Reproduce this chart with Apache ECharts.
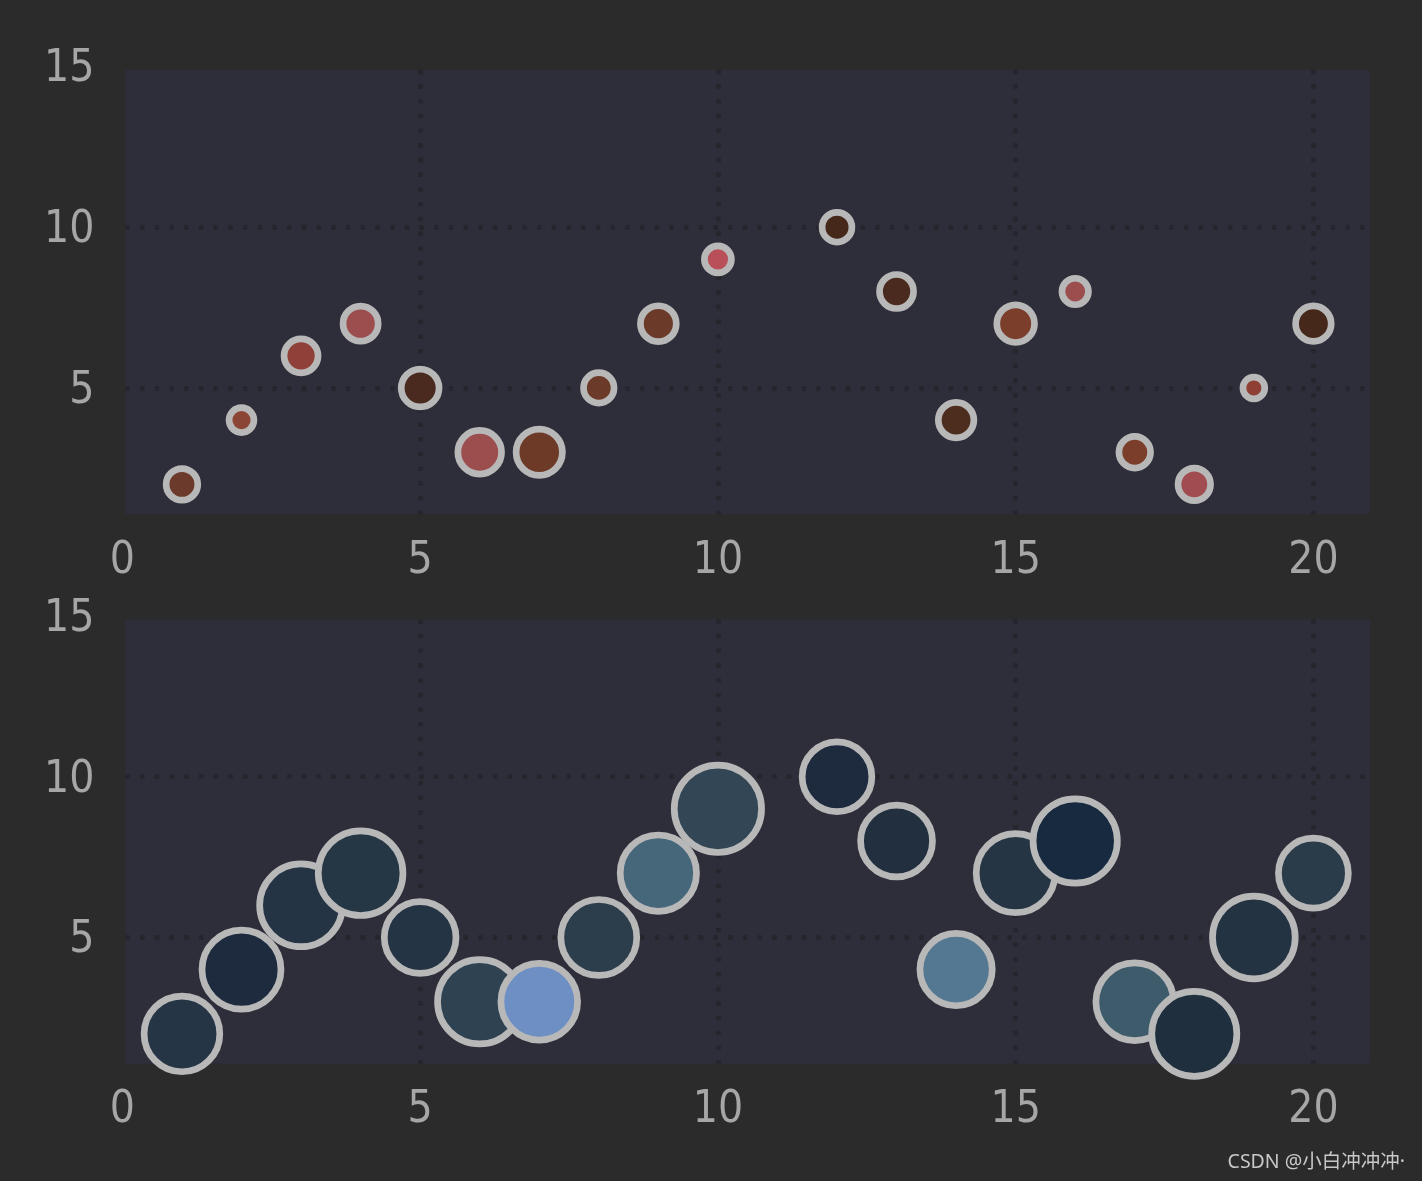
<!DOCTYPE html>
<html>
<head>
<meta charset="utf-8">
<script src="https://cdn.jsdelivr.net/npm/echarts@6/dist/echarts.min.js"></script>
<style>
html,body{margin:0;padding:0;background:#2b2b2b;}
#chart{width:1422px;height:1181px;}
</style>
</head>
<body>
<div id="chart"></div>
<script>
// ---- data ----
const xValues = [1, 2, 3, 4, 5, 6, 7, 8, 9, 10, 12, 13, 14, 15, 16, 17, 18, 19, 20];
const yValues = [2, 4, 6, 7, 5, 3, 3, 5, 7, 9, 10, 8, 4, 7, 8, 3, 2, 5, 7];
// marker areas (matplotlib-like "s" values, pt^2)
const topAreas = [518, 321, 599, 639, 741, 990, 1111, 482, 665, 378, 460, 599, 657, 737, 364, 518, 548, 246, 657];
const bottomAreas = [2970, 3235, 3554, 3719, 2665, 3684, 3050, 2987, 3018, 3951, 2518, 2680, 2710, 3227, 3684, 3130, 3754, 3545, 2533];
const xTickLabels = [0, 5, 10, 15, 20];
const yTickLabels = [5, 10, 15];

// ---- styles ----
const topColors = ['#6b3a2a', '#8a4535', '#8f4038', '#9c4e4e', '#4a2a1e', '#9c4e4e', '#6e3a28', '#6b3a28', '#6b3a28', '#b94f58',
                   '#45281a', '#4a2a1e', '#4d2d1e', '#7a3e2a', '#9c4e4e', '#7a3e2a', '#a04c50', '#8f4035', '#45281a'];
const bottomColors = ['#263545', '#1e2b3e', '#253444', '#253644', '#253444', '#2f4252', '#6e8fc4', '#2c3d4b', '#46667a', '#334655',
                      '#1e2b3e', '#212f3f', '#557892', '#263544', '#172a3f', '#3e5b6c', '#202f3e', '#243342', '#2a3b4a'];

// ---- layout ----
const X0 = 122.4, UX = 59.55;          // pixel of x=0, px per x unit
const UY = 32.15;                      // px per y unit
const Y0s = [548.7, 1098.2];           // pixel of y=0 for each subplot
const XMIN = 0.05, XMAX = 20.95, YMIN = 1.07, YMAX = 14.9;
const LABEL_SHIFT = 3.5;               // label baseline tweak for font metrics
const LABEL_FONT = '"Liberation Sans Narrow", "Arial Narrow", "DejaVu Sans Condensed", sans-serif';
const LABEL_COLOR = '#a6a6a6';
const LABEL_SIZE = 44;
const gridLine = {show: true, lineStyle: {color: '#25252c', width: 4.5, type: [4.5, 10.2]}};

const grids = [], xAxes = [], yAxes = [], series = [];
const areaSets = [topAreas, bottomAreas];
const colorSets = [topColors, bottomColors];

Y0s.forEach(function (y0, k) {
  // data grid
  grids.push({
    left: X0 + XMIN * UX, width: (XMAX - XMIN) * UX,
    top: y0 - YMAX * UY, height: (YMAX - YMIN) * UY,
    show: true, backgroundColor: '#2e2e3a', borderWidth: 0
  });
  const gData = grids.length - 1;
  xAxes.push({
    type: 'value', gridIndex: gData, min: XMIN, max: XMAX,
    axisLine: {show: false}, axisLabel: {show: false},
    axisTick: {show: false, customValues: [5, 10, 15, 20]},
    splitLine: gridLine
  });
  yAxes.push({
    type: 'value', gridIndex: gData, min: YMIN, max: YMAX,
    axisLine: {show: false}, axisLabel: {show: false},
    axisTick: {show: false, customValues: [5, 10]},
    splitLine: gridLine
  });
  // label grid
  grids.push({
    left: X0, width: 21 * UX,
    top: y0 - 15 * UY + LABEL_SHIFT, height: (15 - YMIN) * UY,
    show: false
  });
  const gLab = grids.length - 1;
  xAxes.push({
    type: 'value', gridIndex: gLab, min: 0, max: 21,
    axisLine: {show: false}, axisTick: {show: false, customValues: xTickLabels}, splitLine: {show: false},
    axisLabel: {customValues: xTickLabels, color: LABEL_COLOR, fontSize: LABEL_SIZE, fontFamily: LABEL_FONT, margin: 21.5}
  });
  yAxes.push({
    type: 'value', gridIndex: gLab, min: YMIN, max: 15,
    axisLine: {show: false}, axisTick: {show: false, customValues: yTickLabels}, splitLine: {show: false},
    axisLabel: {customValues: yTickLabels, color: LABEL_COLOR, fontSize: LABEL_SIZE, fontFamily: LABEL_FONT, margin: 28}
  });

  const areas = areaSets[k], colors = colorSets[k];
  series.push({
    type: 'scatter',
    xAxisIndex: gData, yAxisIndex: gData,
    data: xValues.map(function (x, i) { return [x, yValues[i], areas[i]]; }),
    symbol: 'circle',
    symbolSize: function (v) { return Math.sqrt(v[2]) / 0.72; },
    clip: true,
    itemStyle: {
      color: function (p) { return colors[p.dataIndex]; },
      borderColor: '#b8b8b8',
      borderWidth: 6.7,
      opacity: 1
    },
    emphasis: {disabled: true},
    animation: false
  });
});

const chart = echarts.init(document.getElementById('chart'), null, {renderer: 'canvas'});
chart.setOption({
  backgroundColor: '#2b2b2b',
  animation: false,
  grid: grids,
  xAxis: xAxes,
  yAxis: yAxes,
  series: series,
  graphic: [{
    type: 'text', right: 17, bottom: 9,
    style: {text: 'CSDN @小白冲冲冲·', fill: '#c8c8c8', fontSize: 19.5,
            fontFamily: '"Noto Sans", "Noto Sans CJK SC", sans-serif'}
  }]
});
</script>
</body>
</html>
